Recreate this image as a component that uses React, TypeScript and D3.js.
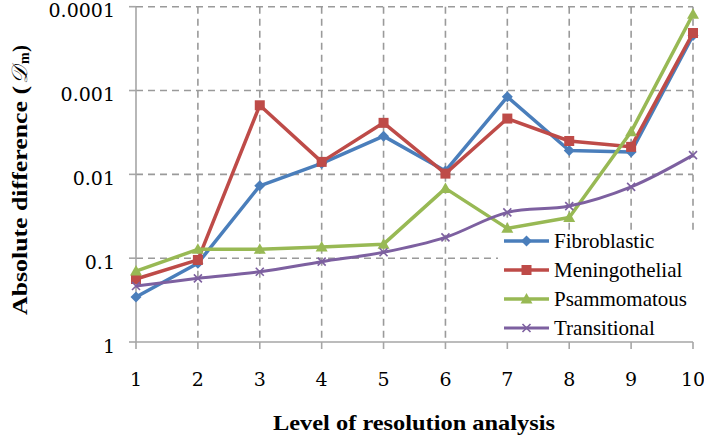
import React from "react";
import * as d3 from "d3";

const levels = [1, 2, 3, 4, 5, 6, 7, 8, 9, 10];
const fibroblastic = [0.29, 0.115, 0.0137, 0.0074, 0.0035, 0.0091, 0.00119, 0.0052, 0.0054, 0.00022];
const meningothelial = [0.177, 0.105, 0.0015, 0.0071, 0.00243, 0.0098, 0.00216, 0.004, 0.0047, 0.000206];
const psammomatous = [0.1425, 0.0785, 0.0785, 0.0738, 0.068, 0.0147, 0.0441, 0.0327, 0.00311, 0.000123];
const transitional = [0.215, 0.174, 0.145, 0.11, 0.085, 0.0565, 0.0284, 0.0239, 0.0141, 0.0059];
const yTicks = [1, 0.1, 0.01, 0.001, 0.0001];
const yTickLabels = ["1", "0.1", "0.01", "0.001", "0.0001"];
const seriesNames = ["Fibroblastic", "Meningothelial", "Psammomatous", "Transitional"];

const W = 704, H = 440;
const X0 = 136, X1 = 693, YB = 342, YT = 6.7;
const GRID = "#9a9a9a";
const AXIS = "#a6a6a6";
const TICKFONT = "'DejaVu Serif', serif";
const TEXTFONT = "'Liberation Serif', serif";

const series = [
  { name: seriesNames[0], values: fibroblastic, color: "#4a7ebb", marker: "diamond", smooth: false, width: 3.5 },
  { name: seriesNames[1], values: meningothelial, color: "#be4b48", marker: "square", smooth: false, width: 3.5 },
  { name: seriesNames[2], values: psammomatous, color: "#98b954", marker: "triangle", smooth: false, width: 3.5 },
  { name: seriesNames[3], values: transitional, color: "#7d60a0", marker: "x", smooth: true, width: 3 },
];

function Marker({ type, x, y, color }: { type: string; x: number; y: number; color: string }) {
  if (type === "diamond") {
    const s = 5.5;
    return <path d={`M${x},${y - s}L${x + s},${y}L${x},${y + s}L${x - s},${y}Z`} fill={color} />;
  }
  if (type === "square") {
    const s = 5;
    return <rect x={x - s} y={y - s} width={2 * s} height={2 * s} fill={color} />;
  }
  if (type === "triangle") {
    const s = 6;
    return <path d={`M${x},${y - s}L${x + s},${y + s * 0.75}L${x - s},${y + s * 0.75}Z`} fill={color} />;
  }
  const s = 4;
  return (
    <path d={`M${x - s},${y - s}L${x + s},${y + s}M${x + s},${y - s}L${x - s},${y + s}`} stroke={color} strokeWidth={1.6} fill="none" />
  );
}

export default function App() {
  const x = d3.scaleLinear().domain([1, 10]).range([X0, X1]);
  const y = d3.scaleLog().domain([1, 0.0001]).range([YB, YT]);

  const legendX = 504, legendY0 = 241, legendDY = 29;

  return (
    <div style={{ position: "fixed", left: 0, top: 0 }}>
      <svg width={W} height={H} style={{ display: "block", background: "#fff" }}>
        {/* horizontal gridlines */}
        {yTicks.slice(1).map((t) => (
          <line key={"h" + t} x1={X0} x2={X1} y1={y(t)} y2={y(t)} stroke={GRID} strokeWidth={1.6} strokeDasharray="7,5" />
        ))}
        {/* vertical gridlines */}
        {levels.slice(1).map((l) => (
          <line key={"v" + l} x1={x(l)} x2={x(l)} y1={YT} y2={YB} stroke={GRID} strokeWidth={1.6} strokeDasharray="7,5" />
        ))}
        {/* legend background */}
        <rect x={498} y={231} width={206} height={109} fill="#fff" />
        {/* axes */}
        <line x1={X0} x2={X0} y1={YT} y2={YB} stroke={AXIS} strokeWidth={1.6} />
        <line x1={X0} x2={X1} y1={YB} y2={YB} stroke={AXIS} strokeWidth={1.6} />
        {yTicks.map((t) => (
          <line key={"yt" + t} x1={X0 - 7} x2={X0} y1={y(t)} y2={y(t)} stroke={AXIS} strokeWidth={1.6} />
        ))}
        {levels.map((l) => (
          <line key={"xt" + l} x1={x(l)} x2={x(l)} y1={YB} y2={YB + 7} stroke={AXIS} strokeWidth={1.6} />
        ))}
        {/* tick labels */}
        {yTicks.map((t, i) => (
          <text key={"yl" + t} x={115} y={y(t) + 10.5} textAnchor="end" fontFamily={TICKFONT} fontSize={19} fill="#000">
            {yTickLabels[i]}
          </text>
        ))}
        {levels.map((l) => (
          <text key={"xl" + l} x={x(l)} y={386} textAnchor="middle" fontFamily={TICKFONT} fontSize={19} fill="#000">
            {l}
          </text>
        ))}
        {/* series */}
        {series.map((s) => {
          const line = d3
            .line<number>()
            .x((_, i) => x(levels[i]))
            .y((v) => y(v))
            .curve(s.smooth ? d3.curveCatmullRom.alpha(0.5) : d3.curveLinear);
          return (
            <g key={s.name}>
              <path d={line(s.values) || ""} fill="none" stroke={s.color} strokeWidth={s.width} strokeLinejoin="round" />
              {s.values.map((v, i) => (
                <Marker key={i} type={s.marker} x={x(levels[i])} y={y(v)} color={s.color} />
              ))}
            </g>
          );
        })}
        {/* legend */}
        {series.map((s, i) => {
          const ly = legendY0 + i * legendDY;
          return (
            <g key={"lg" + s.name}>
              <line x1={legendX} x2={legendX + 45} y1={ly} y2={ly} stroke={s.color} strokeWidth={s.width} />
              <Marker type={s.marker} x={legendX + 22.5} y={ly} color={s.color} />
              <text x={554} y={ly + 7} fontFamily={TEXTFONT} fontSize={21} fill="#000">
                {s.name}
              </text>
            </g>
          );
        })}
        {/* axis titles */}
        <text
          x={414}
          y={430}
          textAnchor="middle"
          fontFamily={TEXTFONT}
          fontWeight="bold"
          fontSize={21}
          fill="#000"
          textLength={282}
          lengthAdjust="spacingAndGlyphs"
        >
          Level of resolution analysis
        </text>
        <g transform="translate(27,315) rotate(-90)" fontFamily={TEXTFONT} fill="#000">
          <text x={0} y={0} fontWeight="bold" fontSize={21} textLength={229} lengthAdjust="spacingAndGlyphs">
            Absolute difference (
          </text>
          <text x={231} y={0} fontSize={22} fontStyle="italic" fontFamily="'DejaVu Serif', serif">
            𝒟
          </text>
          <text x={251} y={2} fontSize={14} fontWeight="bold">
            m
          </text>
          <text x={263} y={0} fontSize={21} fontWeight="bold">
            )
          </text>
        </g>
      </svg>
    </div>
  );
}
